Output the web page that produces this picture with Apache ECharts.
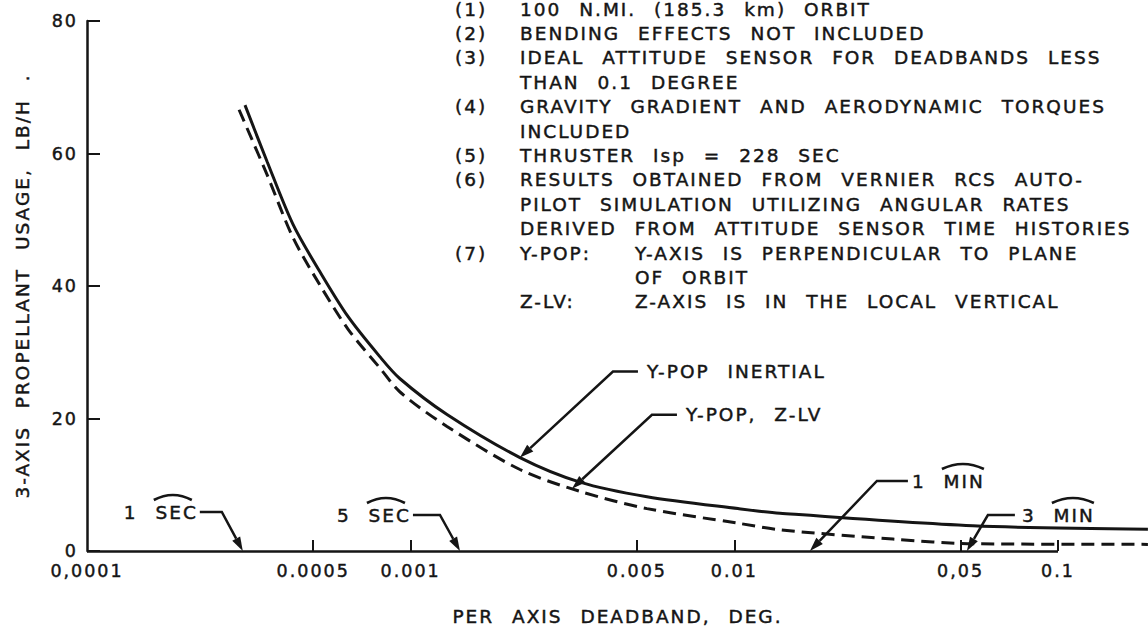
<!DOCTYPE html>
<html>
<head>
<meta charset="utf-8">
<script src="https://cdn.jsdelivr.net/npm/echarts@6/dist/echarts.min.js"></script>
<style>
  html, body { margin: 0; padding: 0; background: #fff; }
  #chart { width: 1148px; height: 630px; }
  /* wide lettering, like the stencil text of the drawing */
  #chart text { letter-spacing: 2px; word-spacing: 10px; }
</style>
</head>
<body>
<div id="chart"></div>
<script>
// Y-POP inertial attitude (solid curve)
const deadbandInertial = [3.077e-4, 3.60e-4, 4.33e-4, 5.25e-4, 6.40e-4, 8.04e-4, 9.27e-4, 1.295e-3, 2.176e-3, 3.334e-3, 5.37e-3, 0.01026, 0.01383, 0.0546, 0.1896];
const usageInertial    = [67.3,     58.8,    49.3,    42.1,    35.4,    29.3,    26.0,    20.6,     14.1,     10.4,     8.2,     6.4,     5.7,     3.8,    3.3];

// Y-POP, Z-LV attitude (dashed curve)
const deadbandLV = [2.95e-4, 3.60e-4, 4.33e-4, 5.25e-4, 6.40e-4, 8.04e-4, 9.27e-4, 1.295e-3, 2.176e-3, 3.334e-3, 5.37e-3, 0.01026, 0.01383, 0.0309, 0.0546, 0.1896];
const usageLV    = [66.6,    56.8,    47.3,    40.1,    33.5,    27.6,    24.0,    18.8,     12.3,     9.0,      6.4,     4.2,     3.2,     1.8,    1.1,    1.0];

// log-axis tick marks and their printed labels
const xTickValues = [0.0001, 0.0005, 0.001, 0.005, 0.01, 0.05, 0.1];
const xTickLabels = ['0,0001', '0.0005', '0.001', '0.005', '0.01', '0,05', '0.1'];
const xAxisEnd = 0.1897;
const yTickValues = [0, 20, 40, 60, 80];

// callouts: label, deadband and usage the arrow points at
const calloutLabels   = ['1 SEC', '5 SEC', 'Y-POP INERTIAL', 'Y-POP, Z-LV', '1 MIN', '3 MIN'];
const calloutDeadband = [3.03e-4, 1.42e-3, 2.176e-3, 3.15e-3, 0.01712, 0.0523];
const calloutUsage    = [0, 0, 14.1, 9.4, 0, 0];

// notes block
const noteMarks = ['(1)', '(2)', '(3)', '', '(4)', '', '(5)', '(6)', '', '', '(7)', '', ''];
const noteText  = [
  '100 N.MI. (185.3 km) ORBIT',
  'BENDING EFFECTS NOT INCLUDED',
  'IDEAL ATTITUDE SENSOR FOR DEADBANDS LESS',
  'THAN 0.1 DEGREE',
  'GRAVITY GRADIENT AND AERODYNAMIC TORQUES',
  'INCLUDED',
  'THRUSTER Isp = 228 SEC',
  'RESULTS OBTAINED FROM VERNIER RCS AUTO-',
  'PILOT SIMULATION UTILIZING ANGULAR RATES',
  'DERIVED FROM ATTITUDE SENSOR TIME HISTORIES',
  'Y-POP:',
  '',
  'Z-LV:'
];
const noteText2 = ['', '', '', '', '', '', '', '', '', '', 'Y-AXIS IS PERPENDICULAR TO PLANE', 'OF ORBIT', 'Z-AXIS IS IN THE LOCAL VERTICAL'];

// ---- layout and styling ----
const INK = '#151515';
const FONT = 'DejaVu Sans';
const FS = 18.5;       // notes, callouts, axis titles
const FS_TICK = 17.5;  // tick labels
const HEAVY = 0.45;    // extra outline to thicken the lettering strokes
const lg = v => Math.round(Math.log10(v) * 1e9) / 1e9;

// leader geometry in pixels, relative to each arrow tip
const calloutLayout = [
  { dx: -21, dy: -39, bar: -22, gap: 2, arc: [-44, -6] },
  { dx: -20, dy: -36, bar: -27, gap: 2, arc: [-44, -6] },
  { dx: 93,  dy: -86, bar: 25, gap: 9 },
  { dx: 80,  dy: -74, bar: 25, gap: 9 },
  { dx: 67,  dy: -70, bar: 31, gap: 4, arc: [30, 72] },
  { dx: 21,  dy: -36, bar: 27, gap: 7, arc: [30, 72] }
];

const chart = echarts.init(document.getElementById('chart'), null, { renderer: 'svg' });

const titleStyle = { fontFamily: FONT, fontSize: FS, color: INK, textBorderColor: INK, textBorderWidth: HEAVY };
const tickStyle = { fontFamily: FONT, fontSize: FS_TICK, color: INK, textBorderColor: INK, textBorderWidth: HEAVY };

const option = {
  animation: false,
  backgroundColor: '#fff',
  grid: { left: 87, right: 0, top: 21, bottom: 79, containLabel: false, outerBoundsMode: 'none' },
  xAxis: {
    type: 'value',
    min: lg(xTickValues[0]),
    max: lg(xAxisEnd),
    name: 'PER AXIS DEADBAND, DEG.',
    nameLocation: 'middle',
    nameGap: 56,
    nameTextStyle: titleStyle,
    // the drawn baseline stops at the last labelled decade (see markLine below)
    axisLine: { show: false },
    axisTick: { show: true, inside: true, length: 11, lineStyle: { color: INK, width: 2 }, customValues: xTickValues.slice(1).map(lg) },
    axisLabel: {
      show: true,
      margin: 11,
      customValues: xTickValues.map(lg),
      formatter: v => {
        let best = 0;
        xTickValues.forEach((t, i) => { if (Math.abs(lg(t) - v) < Math.abs(lg(xTickValues[best]) - v)) best = i; });
        return xTickLabels[best];
      },
      ...tickStyle
    },
    splitLine: { show: false }
  },
  yAxis: {
    type: 'value',
    min: yTickValues[0],
    max: yTickValues[yTickValues.length - 1],
    interval: 20,
    name: '3-AXIS PROPELLANT USAGE, LB/H .',
    nameLocation: 'middle',
    nameRotate: 90,
    nameGap: 55,
    nameTextStyle: titleStyle,
    axisLine: { show: true, lineStyle: { color: INK, width: 2.5 } },
    axisTick: { show: true, inside: true, length: 13, lineStyle: { color: INK, width: 2 } },
    axisLabel: { margin: 9, ...tickStyle },
    splitLine: { show: false }
  },
  series: [
    {
      name: 'Y-POP INERTIAL',
      type: 'line',
      data: deadbandInertial.map((d, i) => [Math.log10(d), usageInertial[i]]),
      smooth: 0.3,
      showSymbol: false,
      symbol: 'none',
      lineStyle: { color: INK, width: 3 },
      markLine: {
        silent: true,
        symbol: ['none', 'none'],
        label: { show: false },
        lineStyle: { color: INK, width: 2.5, type: 'solid' },
        data: [[{ coord: [lg(xTickValues[0]), 0] }, { coord: [lg(xTickValues[xTickValues.length - 1]), 0] }]]
      }
    },
    {
      name: 'Y-POP, Z-LV',
      type: 'line',
      data: deadbandLV.map((d, i) => [Math.log10(d), usageLV[i]]),
      smooth: 0.3,
      showSymbol: false,
      symbol: 'none',
      lineStyle: { color: INK, width: 3, type: [13, 7] }
    }
  ]
};

chart.setOption(option);

// ---- annotation graphics, anchored to data coordinates ----
const gfx = [];
const font = FS + 'px "' + FONT + '"';

function addText(text, x, y, align) {
  gfx.push({
    type: 'text', silent: true,
    style: {
      text, x, y, font, fill: INK, stroke: INK, lineWidth: HEAVY,
      align, verticalAlign: 'middle', textAlign: align, textVerticalAlign: 'middle'
    }
  });
}

calloutLabels.forEach((label, i) => {
  const L = calloutLayout[i];
  const tip = chart.convertToPixel({ gridIndex: 0 }, [Math.log10(calloutDeadband[i]), calloutUsage[i]]);
  const elbow = [tip[0] + L.dx, tip[1] + L.dy];
  const barEnd = [elbow[0] + L.bar, elbow[1]];
  // arrowhead
  const ux = tip[0] - elbow[0], uy = tip[1] - elbow[1];
  const len = Math.hypot(ux, uy);
  const u = [ux / len, uy / len];
  const n = [-u[1], u[0]];
  const AL = 14, AW = 4.5;
  const base = [tip[0] - u[0] * AL, tip[1] - u[1] * AL];
  gfx.push({
    type: 'polyline', silent: true,
    shape: { points: [barEnd, elbow, base] },
    style: { stroke: INK, lineWidth: 2.5, fill: null, lineJoin: 'miter' }
  });
  gfx.push({
    type: 'polygon', silent: true,
    shape: { points: [tip, [base[0] + n[0] * AW, base[1] + n[1] * AW], [base[0] - n[0] * AW, base[1] - n[1] * AW]] },
    style: { fill: INK }
  });
  const left = L.bar < 0;
  const tx = left ? barEnd[0] - L.gap : barEnd[0] + L.gap;
  addText(label, tx, elbow[1], left ? 'right' : 'left');
  if (L.arc) {
    const x1 = tx + L.arc[0], x2 = tx + L.arc[1];
    const yEnd = elbow[1] - 12;
    gfx.push({
      type: 'bezierCurve', silent: true,
      shape: { x1, y1: yEnd, x2, y2: yEnd, cpx1: (x1 + x2) / 2, cpy1: yEnd - 10 },
      style: { stroke: INK, lineWidth: 2.6, fill: null }
    });
  }
});

// notes block at upper right
const NOTE_X0 = 455, NOTE_X1 = 520, NOTE_X2 = 635, NOTE_Y0 = 9, NOTE_DY = 24.4;
noteText.forEach((t, i) => {
  const y = NOTE_Y0 + i * NOTE_DY;
  if (noteMarks[i]) addText(noteMarks[i], NOTE_X0, y, 'left');
  if (t) addText(t, NOTE_X1, y, 'left');
  if (noteText2[i]) addText(noteText2[i], NOTE_X2, y, 'left');
});

chart.setOption({ graphic: { elements: gfx } });
</script>
</body>
</html>
